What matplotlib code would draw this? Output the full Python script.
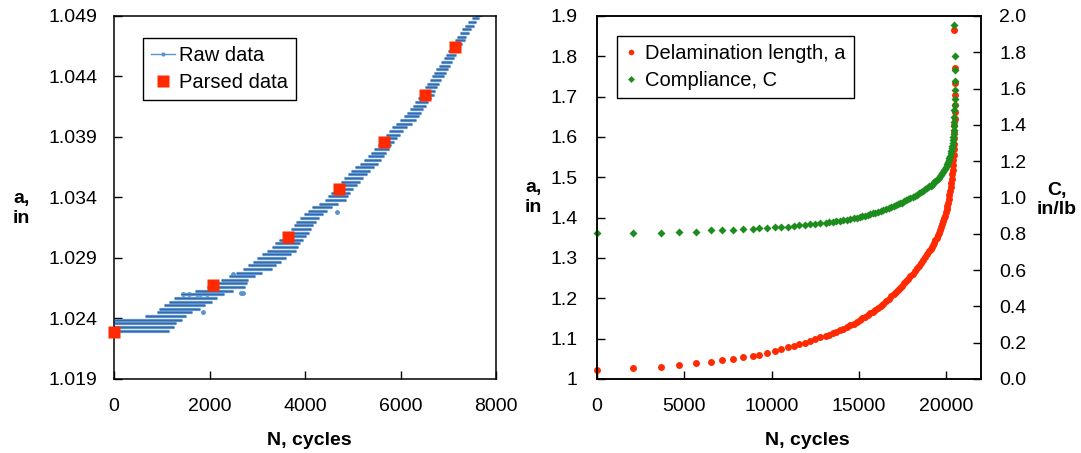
import numpy as np
import matplotlib
matplotlib.use("Agg")
import matplotlib.pyplot as plt
from matplotlib.lines import Line2D
from matplotlib.ticker import FuncFormatter

plt.rcParams['font.family'] = ['Liberation Sans', 'DejaVu Sans']
plt.rcParams['font.size'] = 14

# ---- left panel: raw data, stored as horizontal runs (level, first N, last N)
raw_a = [1.0230, 1.0233, 1.0236, 1.0239, 1.0242, 1.0245, 1.0248, 1.0251,
         1.0254, 1.0257, 1.0260, 1.0263, 1.0266, 1.0269, 1.0272, 1.0275,
         1.0278, 1.0281, 1.0284, 1.0287, 1.0290, 1.0293, 1.0296, 1.0299,
         1.0302, 1.0305, 1.0308, 1.0311, 1.0314, 1.0317, 1.0320, 1.0323,
         1.0326, 1.0329, 1.0332, 1.0335, 1.0338, 1.0341, 1.0344, 1.0347,
         1.0350, 1.0353, 1.0356, 1.0359, 1.0362, 1.0365, 1.0368, 1.0371,
         1.0374, 1.0377, 1.0380, 1.0383, 1.0386, 1.0389, 1.0392, 1.0395,
         1.0398, 1.0401, 1.0404, 1.0407, 1.0410, 1.0413, 1.0416, 1.0419,
         1.0422, 1.0425, 1.0428, 1.0431, 1.0434, 1.0437, 1.0440, 1.0443,
         1.0446, 1.0449, 1.0452, 1.0455, 1.0458, 1.0461, 1.0464, 1.0467,
         1.0470, 1.0473, 1.0476, 1.0479, 1.0482, 1.0485, 1.0488, 1.0491]
raw_n0 = [0, 0, 0, 0, 650, 900, 950, 1050,
          1150, 1250, 1400, 1700, 1950, 2100, 2250, 2400,
          2550, 2700, 2800, 2900, 3000, 3100, 3200, 3300,
          3380, 3450, 3550, 3620, 3700, 3760, 3820, 3900,
          3980, 4060, 4150, 4300, 4420, 4480, 4540, 4600,
          4680, 4750, 4820, 4890, 4960, 5050, 5150, 5230,
          5310, 5380, 5450, 5520, 5580, 5640, 5700, 5760,
          5830, 5900, 5990, 6070, 6140, 6200, 6260, 6310,
          6360, 6410, 6460, 6510, 6560, 6610, 6660, 6710,
          6750, 6800, 6850, 6900, 6950, 7000, 7040, 7090,
          7140, 7190, 7240, 7290, 7350, 7420, 7490, 7560]
raw_n1 = [1150, 1250, 1300, 1420, 1500, 1630, 1800, 1900,
          2050, 2150, 2300, 2500, 2750, 2780, 2800, 2950,
          3100, 3300, 3400, 3500, 3600, 3700, 3800, 3850,
          3900, 3950, 4030, 4080, 4120, 4170, 4230, 4300,
          4380, 4460, 4560, 4700, 4850, 4900, 4950, 5010,
          5080, 5150, 5220, 5290, 5370, 5450, 5520, 5590,
          5650, 5700, 5750, 5800, 5860, 5920, 5990, 6060,
          6140, 6230, 6330, 6380, 6430, 6480, 6530, 6580,
          6640, 6690, 6730, 6770, 6810, 6850, 6900, 6950,
          6990, 7030, 7070, 7110, 7160, 7200, 7250, 7290,
          7340, 7380, 7430, 7480, 7530, 7590, 7650, 7700]
# isolated raw points
raw_pts_n = [1452, 1560, 1731, 1800, 1940, 1870, 2500, 2710, 2650, 4660]
raw_pts_a = [1.0260, 1.0260, 1.0260, 1.0260, 1.0260, 1.0245, 1.0277,
             1.0261, 1.0261, 1.0328]

parsed_n = [0, 2080, 3650, 4720, 5654, 6513, 7148]
parsed_a = [1.0229, 1.02675, 1.0307, 1.0347, 1.0386, 1.0425, 1.0464]

# ---- right panel: delamination length and compliance vs cycles
cyc_n = [0, 2080, 3650, 4720, 5654, 6513, 7148, 7810, 8350, 8960, 9300,
         9760, 10220, 10560, 10950,
         11300, 11600, 11900, 12200, 12500, 12800,
         13100, 13300, 13500, 13700, 13900, 14100, 14300, 14500, 14700, 14900,
         15050, 15200, 15350, 15500, 15650, 15800, 15950, 16100, 16250,
         16400, 16550, 16700, 16850,
         17000, 17120, 17240, 17360, 17480, 17600, 17720, 17840, 17960,
         18080, 18200, 18320, 18440, 18560, 18680, 18800, 18920,
         19040, 19110, 19180, 19250, 19320, 19390, 19460, 19530, 19600,
         19660, 19720, 19780, 19840, 19890, 19940, 19990,
         20030, 20070, 20110, 20150, 20190, 20230, 20260, 20290, 20320,
         20350, 20370, 20390, 20410, 20425, 20440, 20450, 20460, 20470,
         20480, 20485, 20490, 20495, 20500, 20505, 20510, 20480]
delam_a = [1.0229, 1.02675, 1.0307, 1.0347, 1.0386, 1.0425, 1.0464, 1.0496,
           1.0537, 1.0562, 1.060, 1.065, 1.069, 1.074, 1.079,
           1.082, 1.086, 1.090, 1.095, 1.100, 1.104,
           1.107, 1.110, 1.113, 1.117, 1.121, 1.125, 1.129, 1.133, 1.137, 1.142,
           1.146, 1.150, 1.154, 1.159, 1.163, 1.167, 1.172, 1.177, 1.182,
           1.187, 1.193, 1.199, 1.205,
           1.211, 1.216, 1.221, 1.226, 1.231, 1.237, 1.243, 1.249, 1.255,
           1.261, 1.267, 1.274, 1.281, 1.288, 1.295, 1.302, 1.310,
           1.318, 1.323, 1.328, 1.333, 1.338, 1.344, 1.350, 1.356, 1.363,
           1.370, 1.377, 1.384, 1.391, 1.398, 1.405, 1.413,
           1.421, 1.429, 1.437, 1.446, 1.456, 1.467, 1.476, 1.486, 1.497,
           1.509, 1.519, 1.530, 1.543, 1.555, 1.570, 1.583, 1.597, 1.613,
           1.630, 1.645, 1.662, 1.680, 1.705, 1.735, 1.770, 1.865]
compl_c = [0.806, 0.806, 0.806, 0.812, 0.812, 0.821, 0.821, 0.821,
           0.828, 0.828, 0.830, 0.832, 0.835, 0.838, 0.840,
           0.843, 0.846, 0.849, 0.852, 0.855, 0.858,
           0.861, 0.863, 0.866, 0.869, 0.872, 0.875, 0.878, 0.881, 0.885, 0.889,
           0.892, 0.896, 0.900, 0.904, 0.908, 0.912, 0.916, 0.921, 0.926,
           0.931, 0.936, 0.941, 0.946,
           0.952, 0.957, 0.962, 0.967, 0.972, 0.978, 0.984, 0.990, 0.996,
           1.002, 1.009, 1.016, 1.023, 1.030, 1.037, 1.045, 1.053,
           1.061, 1.066, 1.071, 1.077, 1.083, 1.089, 1.096, 1.103, 1.110,
           1.117, 1.125, 1.133, 1.142, 1.150, 1.159, 1.168,
           1.176, 1.185, 1.195, 1.206, 1.218, 1.231, 1.243, 1.256, 1.270,
           1.286, 1.299, 1.314, 1.332, 1.350, 1.372, 1.392, 1.415, 1.445,
           1.480, 1.510, 1.545, 1.590, 1.640, 1.700, 1.780, 1.950]

BLUE = '#5b92d0'
DARK_BLUE = '#34619a'
RED = '#ff2a00'
GREEN = '#1c8c1c'

fig = plt.figure(figsize=(10.81, 4.53), dpi=100)
ax1 = fig.add_axes([0.1055, 0.1634, 0.3534, 0.8013])
ax2 = fig.add_axes([0.5523, 0.1634, 0.3552, 0.8013])
ax3 = ax2.twinx()

for ax in (ax1, ax2, ax3):
    for s in ax.spines.values():
        s.set_linewidth(1.1)
    ax.tick_params(direction='in', length=6, width=1, labelsize=14)

# left panel
ax1.hlines(raw_a, raw_n0, raw_n1, color=BLUE, lw=2.3, zorder=2)
ax1.hlines(raw_a, raw_n0, raw_n1, color=DARK_BLUE, lw=0.6, zorder=3)
ax1.plot(raw_pts_n, raw_pts_a, 'o', ms=2.5, color=BLUE, zorder=2)
ax1.plot(parsed_n, parsed_a, 's', ms=9, color=RED, mec='none', zorder=4,
         clip_on=False)
ax1.set_xlim(0, 8000)
ax1.set_ylim(1.019, 1.049)
ax1.set_xticks(np.arange(0, 8001, 2000))
ax1.set_yticks([1.019, 1.024, 1.029, 1.034, 1.039, 1.044, 1.049])
ax1.yaxis.set_major_formatter(FuncFormatter(lambda v, p: f'{v:.3f}'))
ax1.tick_params(axis='y', pad=12)
ax1.tick_params(axis='x', pad=14)
ax1.set_xlabel('N, cycles', fontweight='bold')
ax1.xaxis.set_label_coords(0.51, -0.145)
ax1.set_ylabel('a,\nin', fontweight='bold', rotation=0, ha='center',
               va='center')
ax1.yaxis.set_label_coords(-0.243, 0.47)

h_raw = Line2D([], [], color=BLUE, lw=1, marker='o', ms=2)
h_parsed = Line2D([], [], ls='none', marker='s', ms=8, color=RED, mec='none')
ax1.legend([h_raw, h_parsed], ['Raw data', 'Parsed data'], loc='upper left',
           bbox_to_anchor=(0.076, 0.94), borderaxespad=0, fancybox=False,
           edgecolor='black', framealpha=1, fontsize=14.5, handlelength=1.2,
           handletextpad=0.2, labelspacing=0.4, borderpad=0.4)

# right panel
ax2.plot(cyc_n, delam_a, 'o', ms=5, color=RED, mec='none',
         label='Delamination length, a', clip_on=False)
ax3.plot(cyc_n, compl_c, 'D', ms=4.5, color=GREEN, mec='none',
         label='Compliance, C', clip_on=False)
ax2.set_xlim(0, 22000)
ax2.set_ylim(1.0, 1.9)
ax3.set_ylim(0.0, 2.0)
ax2.set_xticks(np.arange(0, 20001, 5000))
ax2.set_yticks(np.arange(1.0, 1.91, 0.1))
ax3.set_yticks(np.arange(0.0, 2.01, 0.2))
ax2.yaxis.set_major_formatter(FuncFormatter(lambda v, p: f'{v:g}'))
ax3.yaxis.set_major_formatter(FuncFormatter(lambda v, p: f'{v:.1f}'))
ax2.tick_params(axis='y', pad=14)
ax2.tick_params(axis='x', pad=14)
ax3.tick_params(axis='y', pad=13)
ax2.set_xlabel('N, cycles', fontweight='bold')
ax2.xaxis.set_label_coords(0.547, -0.145)
ax2.set_ylabel('a,\nin', fontweight='bold', rotation=0, ha='center',
               va='center')
ax2.yaxis.set_label_coords(-0.165, 0.5)
ax3.set_ylabel('C,\nin/lb', fontweight='bold', rotation=0, ha='center',
               va='center')
ax3.yaxis.set_label_coords(1.198, 0.493)

h_a = Line2D([], [], ls='none', marker='o', ms=4, color=RED, mec='none')
h_c = Line2D([], [], ls='none', marker='D', ms=3.5, color=GREEN, mec='none')
ax2.legend([h_a, h_c], ['Delamination length, a', 'Compliance, C'],
           loc='upper left', bbox_to_anchor=(0.052, 0.945), borderaxespad=0,
           fancybox=False, edgecolor='black', framealpha=1, fontsize=14.5,
           handlelength=0.6, handletextpad=0.4, labelspacing=0.4,
           borderpad=0.4).set_zorder(10)
ax3.set_zorder(ax2.get_zorder() + 1)

fig.savefig('out.png', dpi=100)
